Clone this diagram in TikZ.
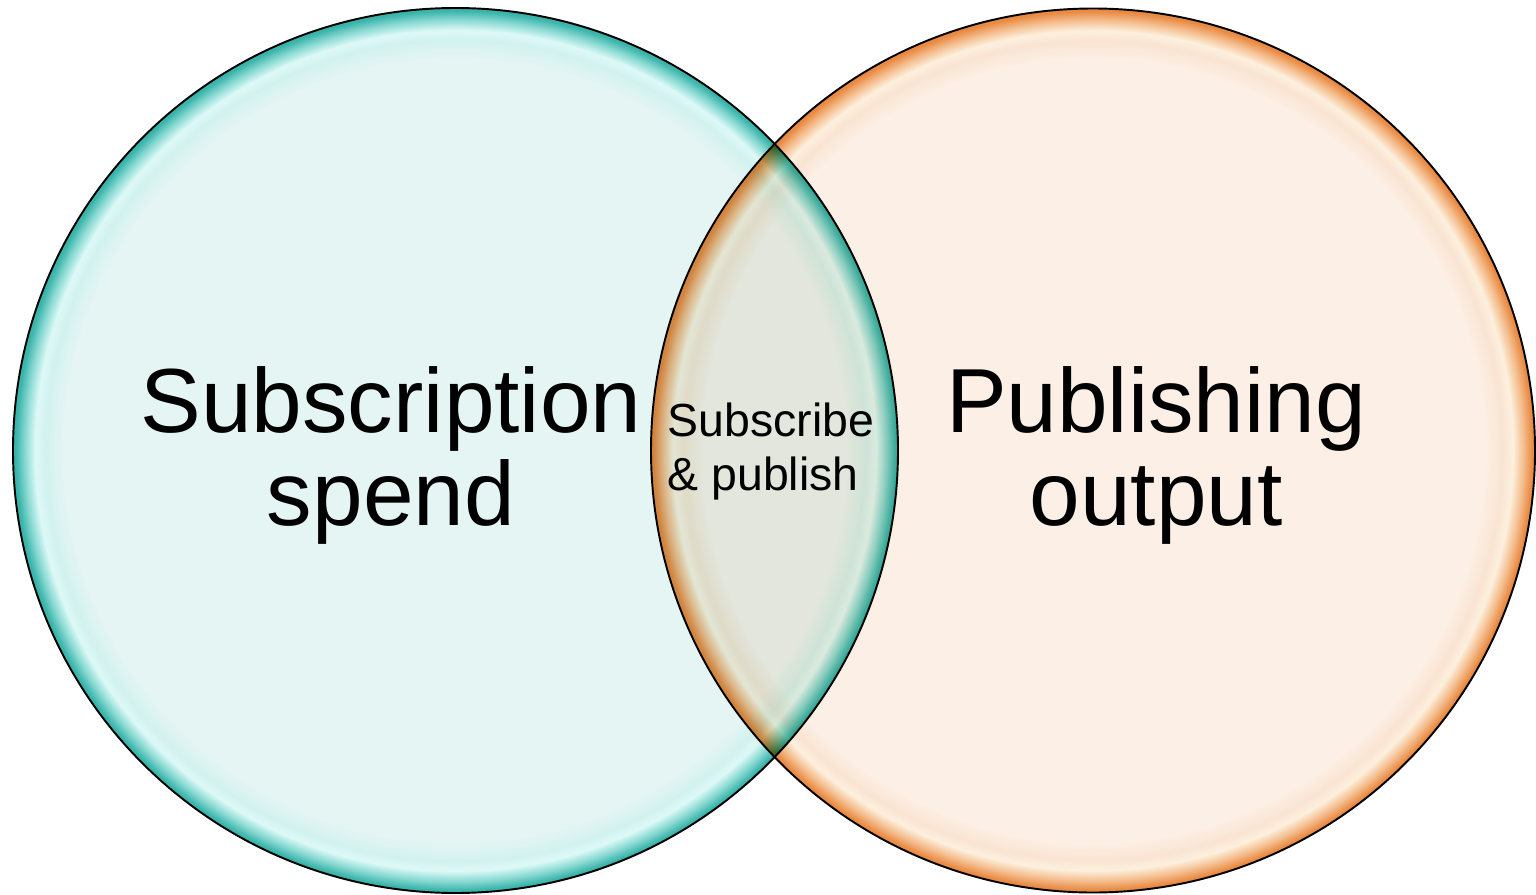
\documentclass[tikz,border=0pt]{standalone}
\usepackage{fontspec}
\setmainfont{Liberation Sans}
\definecolor{tealfill}{HTML}{E5F5F4}
\definecolor{tealsoft}{HTML}{D2F2EF}
\definecolor{tealhi}{HTML}{DDF9F7}
\definecolor{tealmid}{HTML}{86D8D1}
\definecolor{tealdark}{HTML}{3AB4AA}
\definecolor{orfill}{HTML}{FCF0E6}
\definecolor{orsoft}{HTML}{FAE4D2}
\definecolor{orhi}{HTML}{FDF0DE}
\definecolor{ormid}{HTML}{F4BC8C}
\definecolor{ordark}{HTML}{E98A42}
\pgfdeclareradialshading{tealglow}{\pgfpoint{0bp}{0bp}}{%
  color(0bp)=(tealfill); color(22.1bp)=(tealfill); color(23.2bp)=(tealsoft);
  color(23.75bp)=(tealhi); color(24.35bp)=(tealmid); color(24.85bp)=(tealdark); color(50bp)=(tealdark)}
\pgfdeclareradialshading{orglow}{\pgfpoint{0bp}{0bp}}{%
  color(0bp)=(orfill); color(22.1bp)=(orfill); color(23.2bp)=(orsoft);
  color(23.75bp)=(orhi); color(24.35bp)=(ormid); color(24.85bp)=(ordark); color(50bp)=(ordark)}
\tikzset{
  rim/.style={draw=black, line width=0.55pt},
  bigtxt/.style={font=\fontsize{25.9}{26.2}\selectfont, align=center, inner sep=0pt, anchor=base},
  smalltxt/.style={font=\fontsize{13.2}{15.1}\selectfont, align=left, inner sep=0pt, anchor=base west}
}
\begin{document}
\begin{tikzpicture}
\useasboundingbox (0,0) rectangle (15.36,8.94);
\coordinate (L) at (4.555,4.435);
\coordinate (R) at (10.93,4.435);
\shade[shading=tealglow] (L) circle (4.425cm);
\shade[shading=orglow, blend mode=multiply] (R) circle (4.42cm);
\draw[rim] (L) circle (4.425cm);
\draw[rim] (R) circle (4.42cm);
\node[bigtxt] (ls) at (3.91,3.69) {Subscription\\spend};
\node[bigtxt] (rs) at (11.56,3.69) {Publishing\\output};
\node[smalltxt] (ms) at (6.67,4.04) {Subscribe\\\& publish};
\end{tikzpicture}
\end{document}
